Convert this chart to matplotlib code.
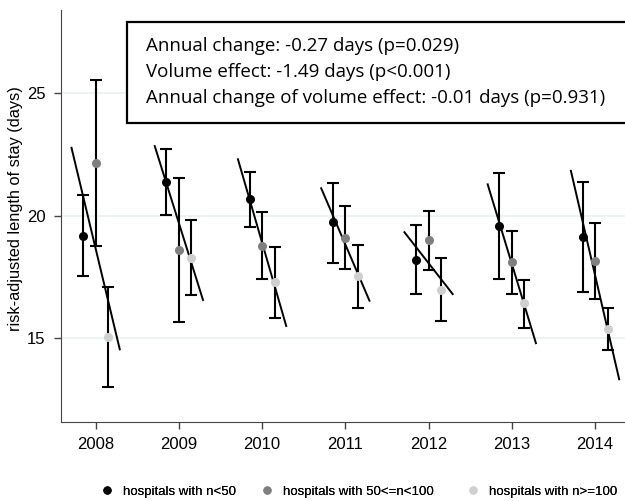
import numpy as np
import matplotlib.pyplot as plt
from matplotlib.patches import Rectangle

plt.rcParams['font.family'] = ['Liberation Sans', 'DejaVu Sans']

years = [2008, 2009, 2010, 2011, 2012, 2013, 2014]

# hospitals with n<50
small_mean = [19.18, 21.35, 20.66, 19.72, 18.19, 19.57, 19.14]
small_lo = [17.55, 20.02, 19.53, 18.05, 16.79, 17.40, 16.90]
small_hi = [20.83, 22.70, 21.78, 21.34, 19.61, 21.72, 21.38]

# hospitals with 50<=n<100
mid_mean = [22.15, 18.59, 18.76, 19.10, 19.00, 18.09, 18.15]
mid_lo = [18.76, 15.66, 17.40, 17.82, 17.78, 16.79, 16.59]
mid_hi = [25.52, 21.51, 20.13, 20.39, 20.18, 19.38, 19.71]

# hospitals with n>=100
large_mean = [15.04, 18.28, 17.30, 17.54, 16.97, 16.42, 15.38]
large_lo = [13.02, 16.76, 15.81, 16.22, 15.70, 15.41, 14.52]
large_hi = [17.09, 19.82, 18.73, 18.80, 18.26, 17.37, 16.25]

# fitted line per year (value at left end, value at right end)
fit_start = [22.76, 22.83, 22.29, 21.11, 19.32, 21.27, 21.82]
fit_end = [14.55, 16.56, 15.50, 16.53, 16.80, 14.80, 13.33]

labels = ['hospitals with n<50', 'hospitals with 50<=n<100', 'hospitals with n>=100']
colors = ['#000000', '#7f7f7f', '#cfcfcf']
offsets = [-0.15, 0.0, 0.15]

fig = plt.figure(figsize=(6.25, 5.01), dpi=100)
ax = fig.add_axes([61 / 625, 1 - 422 / 501, 1 - 61 / 625, 412 / 501])

yrs = np.array(years)
groups = [(small_mean, small_lo, small_hi), (mid_mean, mid_lo, mid_hi), (large_mean, large_lo, large_hi)]
handles = []
for (m, lo, hi), c, off, lab in zip(groups, colors, offsets, labels):
    m = np.array(m)
    err = [m - np.array(lo), np.array(hi) - m]
    ax.errorbar(yrs + off, m, yerr=err, fmt='none', ecolor='black', elinewidth=1.5,
                capsize=4.5, capthick=1.5, zorder=2)
    h, = ax.plot(yrs + off, m, 'o', color=c, markersize=5.5, zorder=4, label=lab)
    handles.append(h)

for y, a, b in zip(years, fit_start, fit_end):
    ax.plot([y - 0.29, y + 0.29], [a, b], color='black', lw=1.4, zorder=3)

ax.set_xlim(2007.584, 2014.36)
ax.set_ylim(11.59, 28.37)
ax.set_xticks(years)
ax.set_yticks([15, 20, 25])
ax.tick_params(labelsize=12, length=5, width=1, color='#444444', pad=6)
for s in ['top', 'right']:
    ax.spines[s].set_visible(False)
for s in ['left', 'bottom']:
    ax.spines[s].set_color('#444444')
ax.grid(axis='y', color='#e6f0f2', lw=1.2, zorder=0)
ax.set_axisbelow(True)
ax.set_ylabel('risk-adjusted length of stay (days)', fontsize=11.8)
ax.yaxis.set_label_coords(-38 / 564, (422 - 209) / 412)

# annotation box
ax.add_patch(Rectangle(((126.7 - 61) / (625 - 61), (422 - 123.3) / 412), 1.2, (123.3 - 22.3) / 412,
                       transform=ax.transAxes, facecolor='white', edgecolor='black', lw=1.6,
                       clip_on=False, zorder=5))
txt = ['Annual change: -0.27 days (p=0.029)',
       'Volume effect: -1.49 days (p<0.001)',
       'Annual change of volume effect: -0.01 days (p=0.931)']
for i, t in enumerate(txt):
    fig.text(145.7 / 625, 1 - (46 + 26 * i) / 501, t, fontsize=13.5, family='Open Sans',
             va='center', ha='left', zorder=6)

# legend, one entry at a time so each sits where the reference puts it
marker_x = [106.7, 266.7, 472.7]
fs = 9.5
half_handle = 0.5 * fs * 100 / 72
for h, lab, mx in zip(handles, labels, marker_x):
    lg = fig.legend([h], [lab], loc='center left',
                    bbox_to_anchor=((mx - half_handle) / 625, 1 - 491.5 / 501),
                    frameon=False, fontsize=fs, handlelength=1.0, handletextpad=0.7,
                    borderpad=0, borderaxespad=0, markerscale=0.9)
    fig.add_artist(lg)

fig.savefig('out.png', dpi=100)
